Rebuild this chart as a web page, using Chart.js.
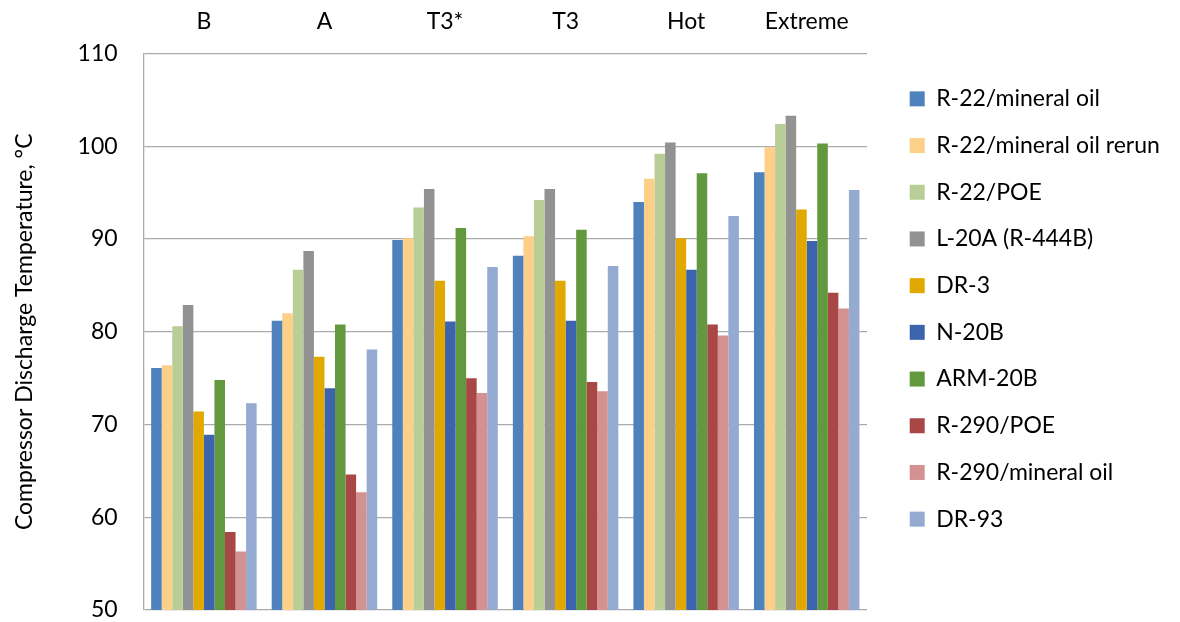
<!DOCTYPE html>
<html>
<head>
<meta charset="utf-8">
<script src="https://cdn.jsdelivr.net/npm/chart.js@4/dist/chart.umd.min.js"></script>
<style>
html,body{margin:0;padding:0;background:#fff;}
#wrap{width:1180px;height:622px;position:relative;}
</style>
</head>
<body>
<div id="wrap"><canvas id="c" width="1180" height="622"></canvas></div>
<script>
const categories = ["B", "A", "T3*", "T3", "Hot", "Extreme"];
const seriesNames = ["R-22/mineral oil", "R-22/mineral oil rerun", "R-22/POE", "L-20A (R-444B)", "DR-3", "N-20B", "ARM-20B", "R-290/POE", "R-290/mineral oil", "DR-93"];
const r22Mineral      = [76.1, 81.2, 89.9, 88.2, 94.0, 97.2];
const r22MineralRerun = [76.4, 82.0, 90.1, 90.3, 96.5, 99.9];
const r22POE          = [80.6, 86.7, 93.4, 94.2, 99.2, 102.4];
const l20A            = [82.9, 88.7, 95.4, 95.4, 100.4, 103.3];
const dr3             = [71.4, 77.3, 85.5, 85.5, 90.1, 93.2];
const n20B            = [68.9, 73.9, 81.1, 81.2, 86.7, 89.8];
const arm20B          = [74.8, 80.8, 91.2, 91.0, 97.1, 100.3];
const r290POE         = [58.4, 64.6, 75.0, 74.6, 80.8, 84.2];
const r290Mineral     = [56.3, 62.7, 73.4, 73.6, 79.6, 82.5];
const dr93            = [72.3, 78.1, 87.0, 87.1, 92.5, 95.3];
const yTicks = [50, 60, 70, 80, 90, 100, 110];

const seriesValues = [r22Mineral, r22MineralRerun, r22POE, l20A, dr3, n20B, arm20B, r290POE, r290Mineral, dr93];
const colors = ["#4F81BD", "#FCD088", "#B9CD96", "#929292", "#E1A900", "#3C64AD", "#62993E", "#A94646", "#D49191", "#95AAD1"];

const FONT = "Lato, 'Liberation Sans', sans-serif";
const FS = 23;
Chart.defaults.font.family = FONT;
Chart.defaults.color = "#000";

// Legend placement helper: reserve a fixed-width column on the right, then nudge items
const legendPlace = {
  id: "legendPlace",
  beforeLayout(chart) {
    const lg = chart.legend;
    if (lg && !lg._patched) {
      const orig = lg.fit.bind(lg);
      lg.fit = function () { orig(); this.width = 309; };
      lg._patched = true;
    }
  },
  afterLayout(chart) {
    const lg = chart.legend;
    if (lg) { lg.left += 19; lg.right += 19; lg.top += 3; lg.bottom += 3; }
  }
};

new Chart(document.getElementById("c"), {
  type: "bar",
  data: {
    labels: categories,
    datasets: seriesNames.map((n, i) => ({
      label: n,
      data: seriesValues[i],
      backgroundColor: colors[i],
      borderWidth: 0,
      categoryPercentage: 0.875,
      barPercentage: 1.0
    }))
  },
  options: {
    responsive: false,
    animation: false,
    devicePixelRatio: 1,
    layout: { padding: { top: -10, right: 4, left: 11, bottom: 0 } },
    plugins: {
      legend: {
        position: "right",
        align: "center",
        labels: {
          boxWidth: 15,
          boxHeight: 15,
          padding: 23.7,
          font: { size: FS, family: FONT },
          color: "#000"
        }
      },
      tooltip: { enabled: false }
    },
    scales: {
      x: {
        position: "top",
        grid: { display: false, drawTicks: false },
        border: { display: false },
        ticks: { padding: 18, font: { size: FS, family: FONT }, color: "#000" }
      },
      y: {
        min: 50,
        max: 110,
        afterBuildTicks: (axis) => { axis.ticks = yTicks.map(v => ({ value: v })); },
        afterFit: (scale) => { scale.paddingBottom = 12; scale.paddingTop = 0; },
        grid: { color: "#ABABAB", lineWidth: 1.3, drawTicks: false },
        border: { color: "#ABABAB", width: 1.3 },
        ticks: { padding: 26, font: { size: FS, family: FONT }, color: "#000" },
        title: {
          display: true,
          text: "Compressor Discharge Temperature, °C",
          font: { size: FS, family: FONT },
          color: "#000",
          padding: { top: 0, bottom: 13 }
        }
      }
    }
  },
  plugins: [legendPlace]
});
</script>
</body>
</html>
